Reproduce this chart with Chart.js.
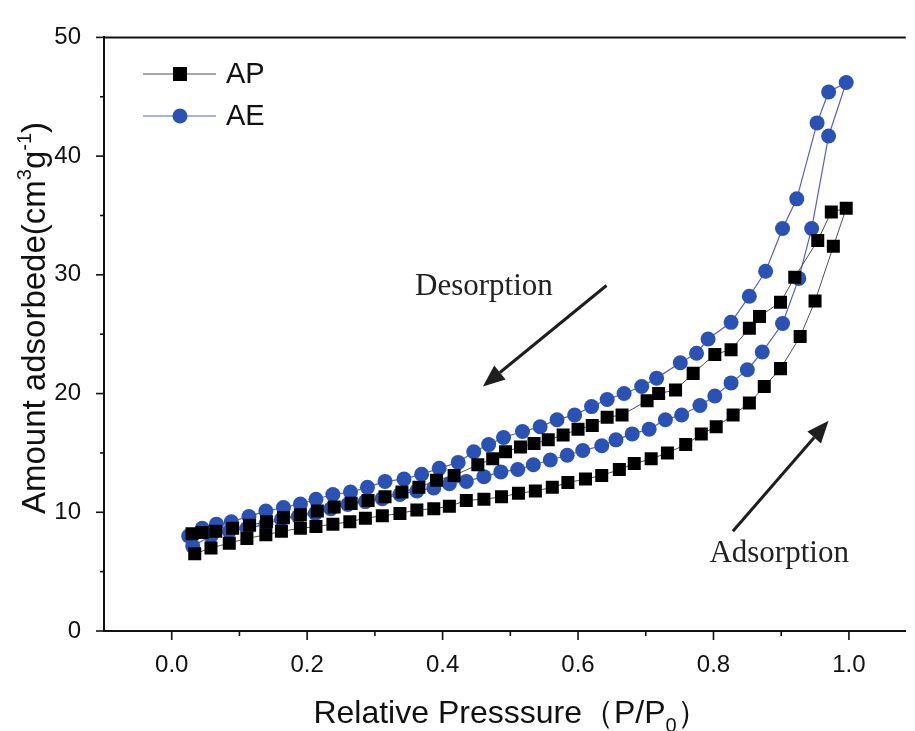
<!DOCTYPE html>
<html>
<head>
<meta charset="utf-8">
<script src="https://cdn.jsdelivr.net/npm/chart.js@4.4.1/dist/chart.umd.min.js"></script>
<style>
  html, body { margin: 0; padding: 0; background: #fff; overflow: hidden; }
  canvas { display: block; }
</style>
</head>
<body>
<canvas id="chart" width="915" height="731"></canvas>
<script>
// N2 isotherms: relative pressure (P/P0) and amount adsorbed (cm3/g)
const apAdsP = [0.034,0.058,0.085,0.111,0.139,0.162,0.190,0.213,0.238,0.263,0.286,0.311,0.337,0.362,0.387,0.410,0.435,0.461,0.487,0.512,0.537,0.562,0.585,0.611,0.635,0.661,0.683,0.708,0.732,0.759,0.782,0.804,0.829,0.853,0.875,0.899,0.928,0.950,0.977,0.996];
const apAdsV = [6.5,7.0,7.4,7.8,8.1,8.4,8.65,8.8,9.0,9.2,9.5,9.7,9.9,10.2,10.3,10.5,11.0,11.1,11.3,11.6,11.8,12.1,12.5,12.8,13.1,13.6,14.1,14.5,15.0,15.7,16.6,17.2,18.2,19.2,20.6,22.1,24.8,27.8,32.4,35.6];
const apDesP = [0.974,0.954,0.920,0.899,0.868,0.853,0.826,0.802,0.770,0.744,0.719,0.702,0.665,0.643,0.621,0.600,0.578,0.556,0.535,0.515,0.493,0.474,0.452,0.417,0.391,0.365,0.340,0.315,0.290,0.265,0.240,0.215,0.190,0.165,0.140,0.115,0.090,0.065,0.045,0.030];
const apDesV = [35.3,32.9,29.8,27.7,26.5,25.5,23.7,23.3,21.7,20.3,20.0,19.4,18.2,18.0,17.3,17.0,16.5,16.1,15.8,15.5,15.1,14.5,14.0,13.1,12.7,12.1,11.7,11.3,11.0,10.75,10.45,10.1,9.8,9.55,9.2,8.9,8.65,8.4,8.3,8.2];

const aeAdsP = [0.031,0.058,0.085,0.111,0.139,0.162,0.187,0.212,0.235,0.260,0.286,0.311,0.337,0.362,0.387,0.410,0.435,0.461,0.486,0.511,0.534,0.559,0.584,0.607,0.635,0.656,0.680,0.705,0.729,0.753,0.780,0.802,0.826,0.850,0.872,0.902,0.926,0.945,0.970,0.996];
const aeAdsV = [7.15,8.0,8.4,8.65,9.0,9.4,9.65,9.9,10.3,10.65,10.9,11.15,11.5,11.8,12.05,12.4,12.6,13.0,13.4,13.6,14.0,14.4,14.8,15.2,15.6,16.1,16.6,17.0,17.8,18.2,19.0,19.8,20.9,22.0,23.5,25.9,29.7,33.9,41.7,46.2];
const aeDesP = [0.970,0.953,0.923,0.902,0.877,0.853,0.826,0.792,0.775,0.751,0.716,0.694,0.668,0.643,0.620,0.595,0.569,0.544,0.518,0.490,0.468,0.446,0.423,0.395,0.369,0.343,0.315,0.289,0.264,0.238,0.213,0.190,0.165,0.139,0.114,0.088,0.066,0.045,0.025];
const aeDesV = [45.4,42.8,36.4,33.9,30.3,28.2,26.0,24.6,23.4,22.6,21.3,20.6,20.0,19.5,18.9,18.2,17.8,17.2,16.8,16.3,15.7,15.1,14.2,13.7,13.2,12.8,12.6,12.1,11.7,11.5,11.1,10.7,10.4,10.1,9.65,9.2,9.0,8.65,8.0];

const seriesNames = ['AP', 'AE'];
const xTickValues = [0, 0.2, 0.4, 0.6, 0.8, 1.0];
const xMinorValues = [0.1, 0.3, 0.5, 0.7, 0.9];
const yTickValues = [0, 10, 20, 30, 40, 50];
const yMinorValues = [5, 15, 25, 35, 45];

const yTitleParts = [{t: 'Amount adsorbede(cm'}, {t: '3', sup: true}, {t: 'g'}, {t: '-1', sup: true}, {t: ')'}];
const xTitleParts = [{t: 'Relative Presssure\uFF08P/P'}, {t: '0', sub: true}, {t: '\uFF09'}];

// isotherm branch notes: label text, label anchor, arrow tail -> head (data units)
const notes = [
  {text: 'Desorption', at: [0.461, 28.95], from: [0.642, 29.1], to: [0.4595, 20.6]},
  {text: 'Adsorption', at: [0.897, 6.5], from: [0.8286, 8.4], to: [0.970, 17.7]}
];

const toPoints = (px, vy) => px.map((p, i) => ({x: p, y: vy[i]}));
const apPoints = toPoints(apAdsP, apAdsV).concat(toPoints(apDesP, apDesV));
const aePoints = toPoints(aeAdsP, aeAdsV).concat(toPoints(aeDesP, aeDesV));

const SANS = '"Liberation Sans", Arial, sans-serif';
const SERIF = '"Liberation Serif", "Times New Roman", serif';
const INK = '#111';

function drawRich(ctx, parts, size, cx, cy) {
  const small = Math.round(size * 0.62);
  const widths = parts.map(p => {
    ctx.font = `${(p.sup || p.sub) ? small : size}px ${SANS}`;
    return ctx.measureText(p.t).width;
  });
  const total = widths.reduce((a, b) => a + b, 0);
  let x = cx - total / 2;
  ctx.textBaseline = 'alphabetic';
  ctx.textAlign = 'left';
  parts.forEach((p, i) => {
    ctx.font = `${(p.sup || p.sub) ? small : size}px ${SANS}`;
    let dy = size * 0.36;
    if (p.sup) dy -= size * 0.42;
    if (p.sub) dy += size * 0.3;
    ctx.fillText(p.t, x, cy + dy);
    x += widths[i];
  });
}

function arrow(ctx, x1, y1, x2, y2) {
  const ang = Math.atan2(y2 - y1, x2 - x1);
  const len = 22, half = 9;
  const bx = x2 - len * Math.cos(ang), by = y2 - len * Math.sin(ang);
  ctx.beginPath();
  ctx.moveTo(x1, y1);
  ctx.lineTo(bx, by);
  ctx.stroke();
  ctx.beginPath();
  ctx.moveTo(x2, y2);
  ctx.lineTo(bx + half * Math.sin(ang), by - half * Math.cos(ang));
  ctx.lineTo(bx - half * Math.sin(ang), by + half * Math.cos(ang));
  ctx.closePath();
  ctx.fill();
}

const decorations = {
  id: 'decorations',
  afterDatasetsDraw(chart) {
    const {ctx, chartArea: a, scales: {x, y}} = chart;
    ctx.save();
    ctx.strokeStyle = INK;
    ctx.fillStyle = INK;

    // top edge of the frame
    ctx.lineWidth = 2;
    ctx.beginPath();
    ctx.moveTo(a.left, a.top);
    ctx.lineTo(a.right, a.top);
    ctx.stroke();

    // outward tick marks
    ctx.lineWidth = 1.6;
    const tick = (x1, y1, x2, y2) => { ctx.beginPath(); ctx.moveTo(x1, y1); ctx.lineTo(x2, y2); ctx.stroke(); };
    yTickValues.forEach(v => { const p = y.getPixelForValue(v); tick(a.left - 8, p, a.left, p); });
    yMinorValues.forEach(v => { const p = y.getPixelForValue(v); tick(a.left - 4, p, a.left, p); });
    xTickValues.forEach(v => { const p = x.getPixelForValue(v); tick(p, a.bottom, p, a.bottom + 9); });
    xMinorValues.forEach(v => { const p = x.getPixelForValue(v); tick(p, a.bottom, p, a.bottom + 5); });

    // branch notes with arrows
    ctx.lineWidth = 3;
    notes.forEach(n => {
      ctx.strokeStyle = '#1e1e1e';
      ctx.fillStyle = '#1e1e1e';
      arrow(ctx, x.getPixelForValue(n.from[0]), y.getPixelForValue(n.from[1]),
                 x.getPixelForValue(n.to[0]), y.getPixelForValue(n.to[1]));
      ctx.font = `31px ${SERIF}`;
      ctx.textAlign = 'center';
      ctx.textBaseline = 'middle';
      ctx.fillStyle = '#222';
      ctx.fillText(n.text, x.getPixelForValue(n.at[0]), y.getPixelForValue(n.at[1]));
    });

    // legend
    chart.data.datasets.forEach((ds, i) => {
      const ly = 74 + i * 42;
      ctx.strokeStyle = ds.borderColor;
      ctx.lineWidth = 1.2;
      ctx.beginPath();
      ctx.moveTo(143, ly);
      ctx.lineTo(216, ly);
      ctx.stroke();
      ctx.fillStyle = ds.pointBackgroundColor;
      if (ds.pointStyle === 'rect') {
        ctx.fillRect(173, ly - 7, 14, 14);
      } else {
        ctx.beginPath();
        ctx.arc(180, ly, 7.5, 0, Math.PI * 2);
        ctx.fill();
      }
      ctx.fillStyle = INK;
      ctx.font = `29px ${SANS}`;
      ctx.textAlign = 'left';
      ctx.textBaseline = 'middle';
      ctx.fillText(ds.label, 226, ly + 1);
    });

    // axis titles
    ctx.fillStyle = INK;
    ctx.save();
    ctx.translate(33, 318);
    ctx.rotate(-Math.PI / 2);
    drawRich(ctx, yTitleParts, 33, 0, 0);
    ctx.restore();
    drawRich(ctx, xTitleParts, 32, 511, 711);

    ctx.restore();
  }
};

new Chart(document.getElementById('chart'), {
  type: 'scatter',
  data: {
    datasets: [
      {
        label: seriesNames[0],
        data: apPoints,
        showLine: true,
        borderColor: '#505050',
        borderWidth: 1,
        pointStyle: 'rect',
        pointRadius: 9.2,
        pointBackgroundColor: '#000000',
        pointBorderColor: '#000000',
        pointBorderWidth: 0
      },
      {
        label: seriesNames[1],
        data: aePoints,
        showLine: true,
        borderColor: '#5560cc',
        borderWidth: 1.2,
        pointStyle: 'circle',
        pointRadius: 7.5,
        pointBackgroundColor: '#2a52b4',
        pointBorderColor: '#2a52b4',
        pointBorderWidth: 0
      }
    ]
  },
  options: {
    responsive: false,
    animation: false,
    devicePixelRatio: 1,
    layout: {padding: {top: 30, right: 0, left: 0, bottom: 0}},
    plugins: {legend: {display: false}, tooltip: {enabled: false}},
    scales: {
      x: {
        type: 'linear',
        min: -0.1,
        max: 1.084,
        afterBuildTicks: s => { s.ticks = xTickValues.map(v => ({value: v})); },
        afterFit: s => { s.height = 100; },
        grid: {display: false, drawTicks: false},
        border: {display: true, color: INK, width: 2},
        ticks: {
          padding: 20, maxRotation: 0, autoSkip: false, color: INK,
          font: {family: SANS, size: 24},
          callback: v => Number(v).toFixed(1)
        }
      },
      y: {
        type: 'linear',
        min: 0,
        max: 50,
        afterBuildTicks: s => { s.ticks = yTickValues.map(v => ({value: v})); },
        afterFit: s => { s.width = 104; },
        grid: {display: false, drawTicks: false},
        border: {display: true, color: INK, width: 2},
        ticks: {
          padding: 23, autoSkip: false, color: INK,
          font: {family: SANS, size: 24},
          callback: v => String(v)
        }
      }
    }
  },
  plugins: [decorations]
});
</script>
</body>
</html>
